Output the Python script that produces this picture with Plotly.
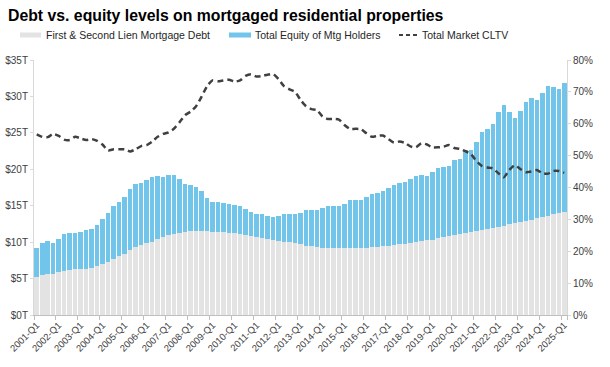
import plotly.graph_objects as go

years = list(range(2001, 2026))
quarters = [f"{y}-Q{q}" for y in years for q in range(1, 5)][:97]
tick_labels = [f"{y}-Q1" for y in years]

debt = [5.26, 5.49, 5.58, 5.67, 5.86, 6.04, 6.22, 6.27, 6.31, 6.36, 6.50, 6.77, 7.00, 7.27, 7.73, 8.10,
        8.42, 8.87, 9.29, 9.61, 9.84, 10.06, 10.50, 10.70, 10.93, 11.12, 11.30, 11.39, 11.48, 11.48, 11.48, 11.48,
        11.42, 11.39, 11.35, 11.30, 11.21, 11.07, 10.98, 10.89, 10.75, 10.57, 10.43, 10.25, 10.20, 10.06, 9.97, 9.84,
        9.70, 9.52, 9.42, 9.33, 9.24, 9.15, 9.15, 9.15, 9.15, 9.19, 9.19, 9.22, 9.24, 9.27, 9.33, 9.42,
        9.52, 9.61, 9.70, 9.79, 9.88, 9.97, 10.11, 10.25, 10.34, 10.52, 10.70, 10.85, 10.98, 11.12, 11.30, 11.44,
        11.55, 11.65, 11.80, 11.95, 12.10, 12.20, 12.44, 12.65, 12.78, 12.90, 13.10, 13.30, 13.50, 13.65, 13.80, 13.95,
        14.15]

equity = [3.98, 4.35, 4.58, 4.26, 4.57, 5.03, 5.08, 4.94, 5.08, 5.31, 5.30, 5.63, 6.22, 6.77, 7.27, 7.45,
          7.77, 8.38, 8.64, 8.51, 8.69, 8.88, 8.53, 8.19, 8.22, 8.09, 7.32, 6.61, 6.36, 6.07, 5.54, 4.55,
          4.13, 4.16, 4.02, 3.89, 3.89, 3.93, 3.54, 3.31, 3.18, 3.34, 3.20, 3.25, 3.36, 3.78, 3.85, 3.98,
          4.32, 4.84, 4.94, 5.03, 5.40, 5.76, 5.76, 5.76, 6.15, 6.53, 6.66, 6.63, 6.95, 7.36, 7.41, 7.58,
          7.95, 8.29, 8.40, 8.41, 8.82, 9.15, 9.10, 8.87, 9.33, 9.63, 9.66, 9.60, 10.29, 10.33, 11.30, 11.25,
          12.15, 13.42, 13.73, 14.22, 15.80, 16.62, 15.37, 14.43, 15.22, 16.38, 16.63, 16.16, 17.01, 17.73, 17.49, 17.11,
          17.64]

cltv = [56.7, 55.9, 55.8, 56.8, 56.2, 55.0, 54.9, 55.9, 55.4, 54.9, 55.2, 54.6, 53.4, 51.6, 52.0, 52.0,
        52.0, 51.3, 52.0, 53.0, 53.3, 54.4, 55.9, 56.8, 57.3, 58.5, 60.5, 62.7, 63.8, 65.5, 68.5, 71.8,
        73.6, 73.3, 73.6, 73.8, 73.2, 73.6, 75.0, 75.5, 74.8, 75.0, 75.4, 75.6, 74.0, 71.8, 70.8, 70.0,
        67.5, 65.5, 64.6, 64.3, 62.3, 61.5, 61.5, 61.3, 59.6, 58.4, 58.4, 58.3, 57.0, 55.9, 56.2, 56.3,
        55.2, 54.1, 54.4, 54.0, 52.9, 52.6, 53.9, 53.5, 52.6, 52.6, 52.8, 53.3, 52.4, 52.1, 51.4, 50.5,
        48.3, 46.8, 46.3, 46.0, 44.5, 43.2, 45.5, 47.0, 45.8, 44.8, 45.0, 45.5, 44.5, 44.3, 45.2, 45.2,
        44.6]

series_names = ["First & Second Lien Mortgage Debt", "Total Equity of Mtg Holders", "Total Market CLTV"]
title_text = "Debt vs. equity levels on mortgaged residential properties"

GRAY = "#E3E3E3"
BLUE = "#72C5EA"
LINE = "#404040"
TXT = "#404040"

fig = go.Figure()
fig.add_trace(go.Bar(x=quarters, y=debt, name=series_names[0], marker=dict(color=GRAY, line=dict(width=0))))
fig.add_trace(go.Bar(x=quarters, y=equity, name=series_names[1], marker=dict(color=BLUE, line=dict(width=0))))
fig.add_trace(go.Scatter(x=quarters, y=cltv, name=series_names[2], yaxis="y2", mode="lines",
                         line=dict(color=LINE, width=2.5, dash="6px,4px", shape="spline", smoothing=0.6)))

W, H = 610, 367
L, R, T, B = 34, 43, 60, 52
pw, ph = W - L - R, H - T - B

def px(x):
    return (x - L) / pw

def py(y):
    return (H - B - y) / ph

shapes = []
annotations = []
leg_y = 35
shapes.append(dict(type="rect", xref="paper", yref="paper", x0=px(20), x1=px(41), y0=py(leg_y + 2.5), y1=py(leg_y - 2.5),
                   fillcolor=GRAY, line=dict(width=0)))
shapes.append(dict(type="rect", xref="paper", yref="paper", x0=px(229), x1=px(251), y0=py(leg_y + 2.5), y1=py(leg_y - 2.5),
                   fillcolor=BLUE, line=dict(width=0)))
shapes.append(dict(type="line", xref="paper", yref="paper", x0=px(399), x1=px(418), y0=py(leg_y), y1=py(leg_y),
                   line=dict(color=LINE, width=2, dash="4px,3px")))
for xpos, txt in [(45, series_names[0]), (254, series_names[1]), (421, series_names[2])]:
    annotations.append(dict(xref="paper", yref="paper", x=px(xpos), y=py(leg_y), text=txt, showarrow=False,
                            xanchor="left", yanchor="middle", borderpad=0,
                            font=dict(size=10.5, color="#262626")))
annotations.append(dict(xref="paper", yref="paper", x=px(7), y=py(15.5), text=f"<b>{title_text}</b>", showarrow=False,
                        xanchor="left", yanchor="middle", borderpad=0, font=dict(size=15.8, color="#000000")))

fig.update_layout(
    width=W, height=H,
    margin=dict(l=L, r=R, t=T, b=B, pad=0, autoexpand=False),
    barmode="stack", bargap=0.18,
    plot_bgcolor="white", paper_bgcolor="white",
    font=dict(family="Liberation Sans, Arial, sans-serif", size=10, color=TXT),
    showlegend=False,
    shapes=shapes, annotations=annotations,
    xaxis=dict(type="category", tickvals=tick_labels, ticktext=tick_labels, tickangle=-45, automargin=False,
               tickson="boundaries", ticks="outside", ticklen=4, tickcolor="#BFBFBF",
               showline=True, linecolor="#BFBFBF", linewidth=1, showgrid=False,
               tickfont=dict(size=9.5, color=TXT)),
    yaxis=dict(range=[0, 35], dtick=5, tickprefix="$", ticksuffix="T", showgrid=False, automargin=False,
               showline=True, linecolor="#D9D9D9", ticks="outside", ticklen=3, tickcolor="#D9D9D9",
               zeroline=False, tickfont=dict(size=10, color=TXT)),
    yaxis2=dict(range=[0, 80], dtick=10, ticksuffix="%", overlaying="y", side="right", showgrid=False, automargin=False,
                showline=True, linecolor="#D9D9D9", ticks="outside", ticklen=3, tickcolor="#D9D9D9",
                zeroline=False, tickfont=dict(size=10, color=TXT)),
)

fig.write_html("out.html", config={"displayModeBar": False},
               post_script="document.body.style.margin='0';document.body.style.padding='0';")
